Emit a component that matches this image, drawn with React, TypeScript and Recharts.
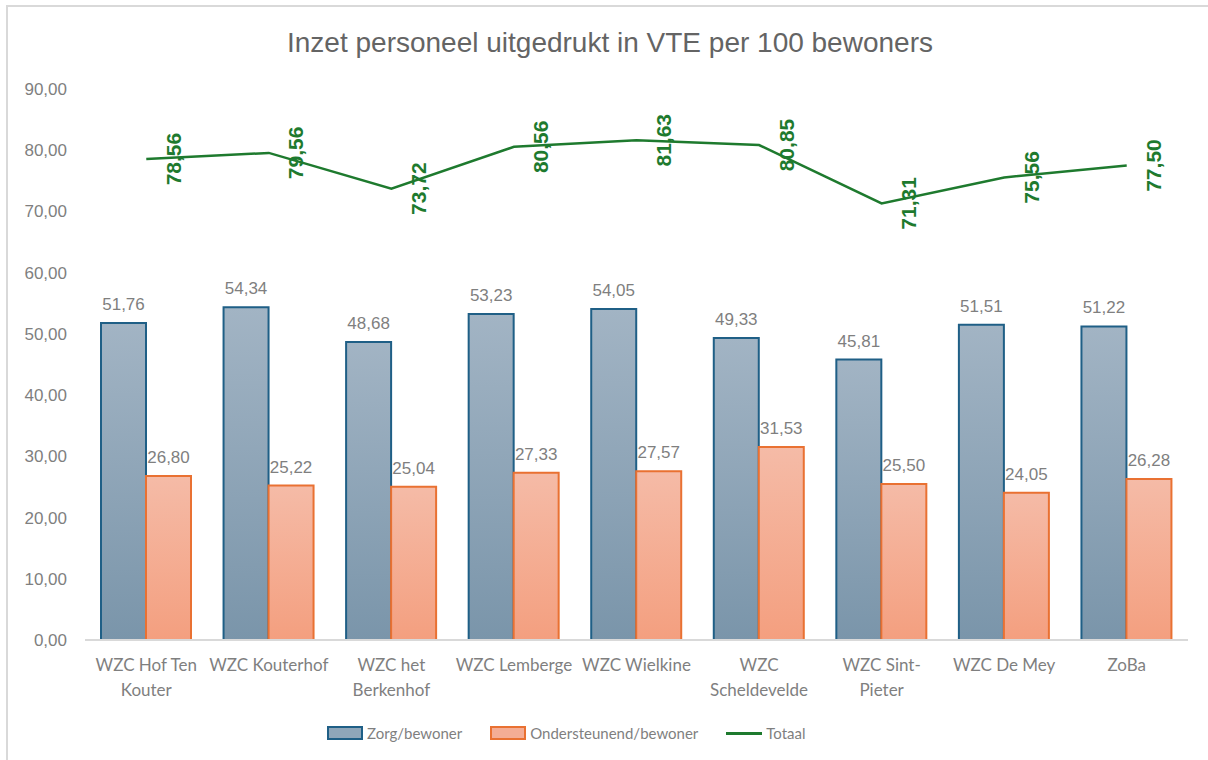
import React from 'react'
import { ComposedChart, Bar, Line, XAxis, YAxis, LabelList } from 'recharts'

const categories = [
  'WZC Hof Ten Kouter',
  'WZC Kouterhof',
  'WZC het Berkenhof',
  'WZC Lemberge',
  'WZC Wielkine',
  'WZC Scheldevelde',
  'WZC Sint-Pieter',
  'WZC De Mey',
  'ZoBa',
]

const tickLines = [
  ['WZC Hof Ten', 'Kouter'],
  ['WZC Kouterhof'],
  ['WZC het', 'Berkenhof'],
  ['WZC Lemberge'],
  ['WZC Wielkine'],
  ['WZC', 'Scheldevelde'],
  ['WZC Sint-', 'Pieter'],
  ['WZC De Mey'],
  ['ZoBa'],
]

const zorg = [51.76, 54.34, 48.68, 53.23, 54.05, 49.33, 45.81, 51.51, 51.22]
const ondersteunend = [26.8, 25.22, 25.04, 27.33, 27.57, 31.53, 25.5, 24.05, 26.28]
const totaal = [78.56, 79.56, 73.72, 80.56, 81.63, 80.85, 71.31, 75.56, 77.5]

const yTicks = [0, 10, 20, 30, 40, 50, 60, 70, 80, 90]

const data = categories.map((name, i) => ({
  name,
  zorg: zorg[i],
  ondersteunend: ondersteunend[i],
  totaal: totaal[i],
}))

const fmt = (v: number) => v.toFixed(2).replace('.', ',')

const gray = '#7f7f7f'
const blueStroke = '#1f5f86'
const orangeStroke = '#e97132'
const green = '#1e7a2e'

function XTick({ x, y, payload }: any) {
  const lines = tickLines[payload.index] || [payload.value]
  return (
    <g>
      {lines.map((l, i) => (
        <text
          key={i}
          x={x}
          y={y + 16 + i * 25}
          textAnchor="middle"
          fill={gray}
          fontSize={17}
          fontFamily="Lato, sans-serif"
          dominantBaseline="central"
        >
          {l}
        </text>
      ))}
    </g>
  )
}

function TotalLabel({ x, y, value }: any) {
  const cx = x + 27
  return (
    <text
      x={cx}
      y={y}
      transform={`rotate(-90 ${cx} ${y})`}
      textAnchor="middle"
      dominantBaseline="central"
      fill={green}
      fontSize={21}
      fontWeight="bold"
      fontFamily="'Liberation Sans', sans-serif"
    >
      {fmt(value)}
    </text>
  )
}

function LegendItem({ kind, label }: { kind: 'blue' | 'orange' | 'line'; label: string }) {
  let swatch
  if (kind === 'line') {
    swatch = <span style={{ display: 'inline-block', width: 36, height: 3, background: green }} />
  } else {
    swatch = (
      <span
        style={{
          display: 'inline-block',
          width: 32,
          height: 10,
          boxSizing: 'content-box',
          border: `2px solid ${kind === 'blue' ? blueStroke : orangeStroke}`,
          background: kind === 'blue' ? '#8fa6b9' : '#f4ad95',
        }}
      />
    )
  }
  return (
    <span style={{ display: 'inline-flex', alignItems: 'center', marginRight: 28 }}>
      {swatch}
      <span style={{ marginLeft: 4 }}>{label}</span>
    </span>
  )
}

export default function App() {
  return (
    <div style={{ position: 'absolute', left: 0, top: 0, width: 1208, height: 760, background: '#fff', overflow: 'hidden' }}>
      <div
        style={{
          position: 'absolute',
          left: 6,
          top: 5,
          width: 1220,
          height: 780,
          border: '2px solid #d9d9d9',
        }}
      />
      <div
        style={{
          position: 'absolute',
          left: 0,
          top: 27,
          width: 1220,
          textAlign: 'center',
          fontFamily: "'Liberation Sans', sans-serif",
          fontSize: 28,
          color: '#646464',
        }}
      >
        Inzet personeel uitgedrukt in VTE per 100 bewoners
      </div>
      <ComposedChart
        width={1208}
        height={760}
        data={data}
        margin={{ top: 89, right: 20, bottom: 60, left: 0 }}
        barGap={0}
      >
        <defs>
          <linearGradient id="gBlue" x1="0" y1="0" x2="0" y2="1">
            <stop offset="0%" stopColor="#a2b4c4" />
            <stop offset="100%" stopColor="#7a95aa" />
          </linearGradient>
          <linearGradient id="gOrange" x1="0" y1="0" x2="0" y2="1">
            <stop offset="0%" stopColor="#f5bba7" />
            <stop offset="100%" stopColor="#f49f7f" />
          </linearGradient>
        </defs>
        <XAxis
          dataKey="name"
          height={60}
          axisLine={{ stroke: '#d9d9d9', strokeWidth: 2 }}
          tickLine={false}
          tick={<XTick />}
          interval={0}
        />
        <YAxis
          width={85}
          domain={[0, 90]}
          ticks={yTicks}
          axisLine={false}
          tickLine={false}
          tickMargin={12}
          tickFormatter={fmt}
          tick={{ fill: gray, fontSize: 17, fontFamily: "'Liberation Sans', sans-serif" }}
        />
        <Bar dataKey="zorg" barSize={45} fill="url(#gBlue)" stroke={blueStroke} strokeWidth={2} isAnimationActive={false}>
          <LabelList
            dataKey="zorg"
            position="top"
            offset={13}
            formatter={(v: any) => fmt(Number(v))}
            fill={gray}
            fontSize={17}
            fontFamily="'Liberation Sans', sans-serif"
          />
        </Bar>
        <Bar dataKey="ondersteunend" barSize={45} fill="url(#gOrange)" stroke={orangeStroke} strokeWidth={2} isAnimationActive={false}>
          <LabelList
            dataKey="ondersteunend"
            position="top"
            offset={13}
            formatter={(v: any) => fmt(Number(v))}
            fill={gray}
            fontSize={17}
            fontFamily="'Liberation Sans', sans-serif"
          />
        </Bar>
        <Line dataKey="totaal" stroke={green} strokeWidth={2.5} dot={false} isAnimationActive={false}>
          <LabelList dataKey="totaal" content={<TotalLabel />} />
        </Line>
      </ComposedChart>
      <div
        style={{
          position: 'absolute',
          left: 327,
          top: 724,
          display: 'flex',
          fontFamily: 'Lato, sans-serif',
          fontSize: 15,
          color: gray,
        }}
      >
        <LegendItem kind="blue" label="Zorg/bewoner" />
        <LegendItem kind="orange" label="Ondersteunend/bewoner" />
        <LegendItem kind="line" label="Totaal" />
      </div>
    </div>
  )
}
